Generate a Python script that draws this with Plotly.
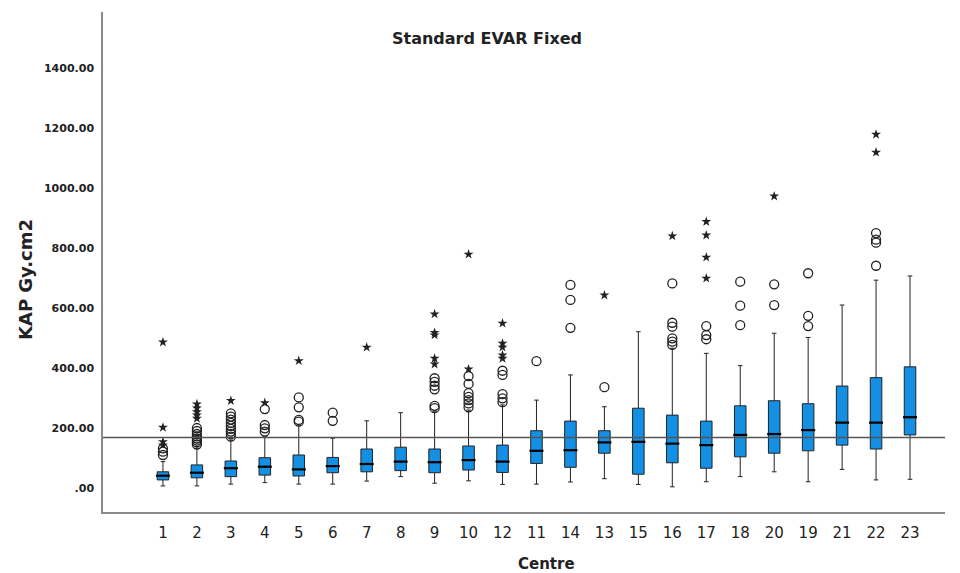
import plotly.graph_objects as go

categories = ["1", "2", "3", "4", "5", "6", "7", "8", "9", "10", "12", "11",
              "14", "13", "15", "16", "17", "18", "20", "19", "21", "22", "23"]

lower_whisker = [7, 7, 13, 18, 13, 13, 23, 38, 16, 24, 12, 13, 20, 31, 12, 4, 21, 38, 54, 21, 62, 27, 29]
q1 = [27, 34, 38, 43, 40, 51, 54, 58, 51, 60, 52, 82, 69, 116, 46, 84, 66, 104, 116, 124, 143, 130, 177]
median = [41, 51, 66, 71, 62, 73, 80, 88, 86, 93, 88, 124, 126, 152, 154, 148, 143, 177, 180, 193, 218, 218, 236]
q3 = [54, 77, 90, 101, 110, 102, 130, 136, 130, 140, 143, 191, 223, 191, 266, 243, 223, 274, 291, 281, 340, 368, 404]
upper_whisker = [88, 138, 160, 171, 210, 166, 224, 251, 254, 260, 277, 293, 377, 271, 521, 466, 449, 408, 516, 502, 610, 693, 707]

circle_outliers = [
    [110, 121, 132],
    [145, 152, 158, 165, 172, 180, 190, 200],
    [171, 180, 188, 197, 207, 217, 228, 238, 249],
    [188, 199, 210, 263],
    [221, 227, 269, 302],
    [224, 251],
    [],
    [],
    [266, 274, 329, 341, 354, 366],
    [269, 282, 293, 304, 316, 347, 373],
    [286, 299, 313, 377, 391],
    [423],
    [534, 627, 677],
    [336],
    [],
    [477, 488, 499, 538, 551, 682],
    [496, 510, 540],
    [543, 608, 688],
    [610, 679],
    [540, 574, 716],
    [],
    [741, 818, 828, 850],
    [],
]

star_outliers = [
    [143, 154, 202, 486],
    [232, 243, 254, 266, 280],
    [291],
    [284],
    [424],
    [],
    [469],
    [],
    [413, 432, 510, 518, 580],
    [396, 779],
    [432, 443, 469, 482, 549],
    [],
    [],
    [643],
    [],
    [840],
    [699, 769, 843, 888],
    [],
    [973],
    [],
    [],
    [1119, 1179],
    [],
]

reference_value = 168

tick_vals = [0, 200, 400, 600, 800, 1000, 1200, 1400]
tick_text = [".00", "200.00", "400.00", "600.00", "800.00", "1000.00", "1200.00", "1400.00"]

BOX_BLUE = "#1390e4"
INK = "#222222"
FONT = "DejaVu Sans"

fig = go.Figure()

fig.add_trace(go.Box(
    x=categories,
    q1=q1, median=median, q3=q3,
    lowerfence=lower_whisker, upperfence=upper_whisker,
    fillcolor=BOX_BLUE,
    line=dict(color=INK, width=1),
    width=0.34,
    whiskerwidth=0.4,
    boxpoints=False,
    hoverinfo="skip",
    showlegend=False,
))

fig.add_trace(go.Scatter(
    x=categories, y=median, mode="markers",
    marker=dict(symbol="line-ew", size=10, line=dict(color="black", width=2.2)),
    hoverinfo="skip", showlegend=False,
))

cx, cy = [], []
for c, vals in zip(categories, circle_outliers):
    for v in vals:
        cx.append(c)
        cy.append(v)
fig.add_trace(go.Scatter(
    x=cx, y=cy, mode="markers",
    marker=dict(symbol="circle-open", size=9, color=INK, line=dict(width=1.3)),
    showlegend=False,
))

sx, sy = [], []
for c, vals in zip(categories, star_outliers):
    for v in vals:
        sx.append(c)
        sy.append(v)
fig.add_trace(go.Scatter(
    x=sx, y=sy, mode="markers",
    marker=dict(symbol="star", size=7.5, color=INK),
    showlegend=False,
))

fig.add_shape(type="line", xref="paper", x0=0, x1=1, yref="y",
              y0=reference_value, y1=reference_value,
              line=dict(color="#555555", width=1.5), layer="above")

fig.update_layout(
    width=960, height=573,
    margin=dict(l=103, r=15, t=12, b=61),
    paper_bgcolor="white", plot_bgcolor="white",
    font=dict(family=FONT, color=INK),
    xaxis=dict(
        type="category",
        categoryorder="array", categoryarray=categories,
        range=[-1.765, 23.03],
        showline=True, linecolor="#8a8a8a", linewidth=1.5,
        showgrid=False, zeroline=False, ticks="",
        ticklabelstandoff=6,
        tickfont=dict(family=FONT, size=15, color=INK),
    ),
    yaxis=dict(
        range=[-80, 1587],
        tickvals=tick_vals, ticktext=tick_text,
        showline=True, linecolor="#8a8a8a", linewidth=1.5,
        showgrid=False, zeroline=False, ticks="",
        ticklabelstandoff=5,
        tickfont=dict(family=FONT, size=11, color=INK, weight="bold"),
    ),
    annotations=[
        dict(text="Standard EVAR Fixed", xref="paper", yref="paper",
             x=(487 - 103) / 842, y=1 - (38 - 12) / 500, showarrow=False,
             font=dict(family=FONT, size=16, color=INK, weight="bold"),
             xanchor="center", yanchor="middle"),
        dict(text="KAP Gy.cm2", xref="paper", yref="paper",
             x=(25 - 103) / 842, y=1 - (280 - 12) / 500, showarrow=False,
             textangle=-90,
             font=dict(family=FONT, size=18, color=INK, weight="bold"),
             xanchor="center", yanchor="middle"),
        dict(text="Centre", xref="paper", yref="paper",
             x=(546 - 103) / 842, y=1 - (564 - 12) / 500, showarrow=False,
             font=dict(family=FONT, size=15, color=INK, weight="bold"),
             xanchor="center", yanchor="middle"),
    ],
)

fig.write_html("out.html")
